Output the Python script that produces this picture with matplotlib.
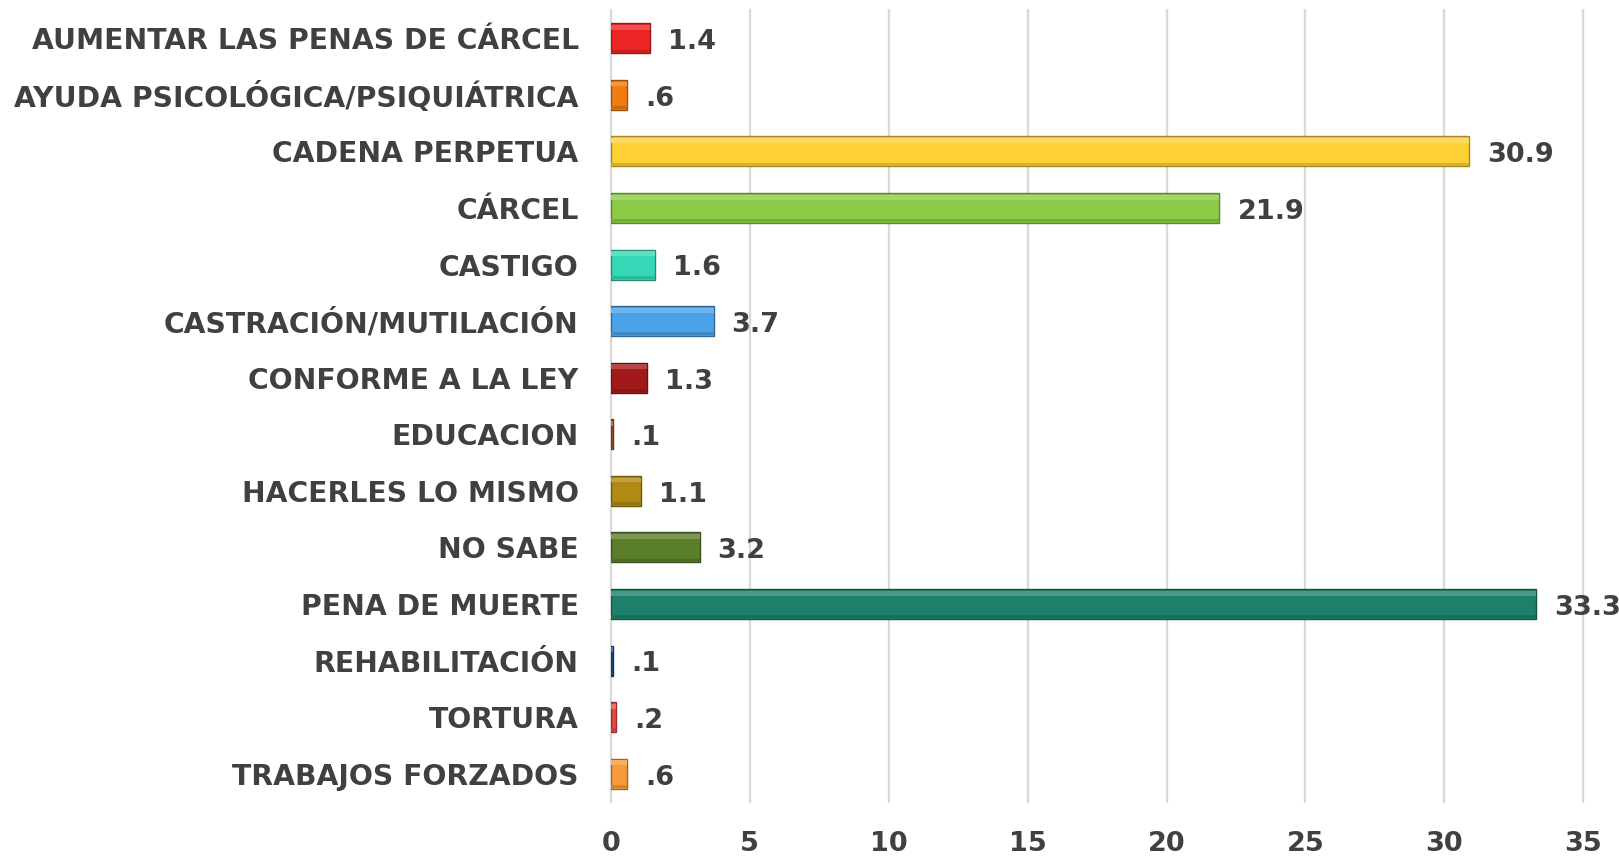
import matplotlib
matplotlib.use("Agg")
import matplotlib.pyplot as plt
import matplotlib.colors as mcolors
import numpy as np

categories = [
    "AUMENTAR LAS PENAS DE CÁRCEL",
    "AYUDA PSICOLÓGICA/PSIQUIÁTRICA",
    "CADENA PERPETUA",
    "CÁRCEL",
    "CASTIGO",
    "CASTRACIÓN/MUTILACIÓN",
    "CONFORME A LA LEY",
    "EDUCACION",
    "HACERLES LO MISMO",
    "NO SABE",
    "PENA DE MUERTE",
    "REHABILITACIÓN",
    "TORTURA",
    "TRABAJOS FORZADOS",
]
values = [1.4, 0.6, 30.9, 21.9, 1.6, 3.7, 1.3, 0.1, 1.1, 3.2, 33.3, 0.1, 0.2, 0.6]
value_labels = ["1.4", ".6", "30.9", "21.9", "1.6", "3.7", "1.3", ".1", "1.1", "3.2", "33.3", ".1", ".2", ".6"]
colors = ["#EC2424", "#F07C12", "#FDD035", "#8CCB48", "#34D8B6", "#4AA2E8", "#A11A1A",
          "#A0522D", "#B08A12", "#5A7E2A", "#1E806B", "#1F4E8C", "#E84646", "#F79A3A"]
xticks = [0, 5, 10, 15, 20, 25, 30, 35]

txt = "#404040"
fig = plt.figure(figsize=(16.19, 8.59), dpi=100)
ax = fig.add_axes([0.3772, 0.0664, 0.978 - 0.3772, 0.9884 - 0.0664])

y = np.arange(len(categories))
h = 0.53

def darker(c, f=0.65):
    r, g, b = mcolors.to_rgb(c)
    return (r * f, g * f, b * f)

def lighter(c, f=0.2):
    r, g, b = mcolors.to_rgb(c)
    return (r + (1 - r) * f, g + (1 - g) * f, b + (1 - b) * f)

ax.barh(y, values, height=h, color=colors, edgecolor=[darker(c) for c in colors], linewidth=1.0, zorder=3)
# subtle top highlight and bottom shade for bevel effect
ax.barh(y - h * 0.36, values, height=h * 0.16, color=[lighter(c) for c in colors], linewidth=0, zorder=4)
ax.barh(y + h * 0.43, values, height=h * 0.1, color=[darker(c, 0.85) for c in colors], linewidth=0, zorder=4)

for yi, v, lab in zip(y, values, value_labels):
    ax.text(v + 0.65, yi + 0.07, lab, va="center", ha="left", fontsize=19.5, fontweight="bold",
            color=txt, zorder=5)

ax.set_xlim(0, 35)
ax.set_ylim(len(categories) - 0.5, -0.5)
ax.set_yticks(y)
ax.set_yticklabels(categories)
ax.set_xticks(xticks)
ax.set_xticklabels([str(t) for t in xticks])
for t in xticks:
    ax.axvline(t, color="#D9D9D9", linewidth=1.6, zorder=1, clip_on=False)
for s in ax.spines.values():
    s.set_visible(False)
ax.tick_params(axis="y", length=0, pad=23, labelsize=20.3, labelcolor=txt)
ax.tick_params(axis="x", length=0, pad=21, labelsize=19.5, labelcolor=txt)
for lab in ax.get_yticklabels() + ax.get_xticklabels():
    lab.set_fontweight("bold")

fig.savefig("out.png", dpi=100, facecolor="white")
